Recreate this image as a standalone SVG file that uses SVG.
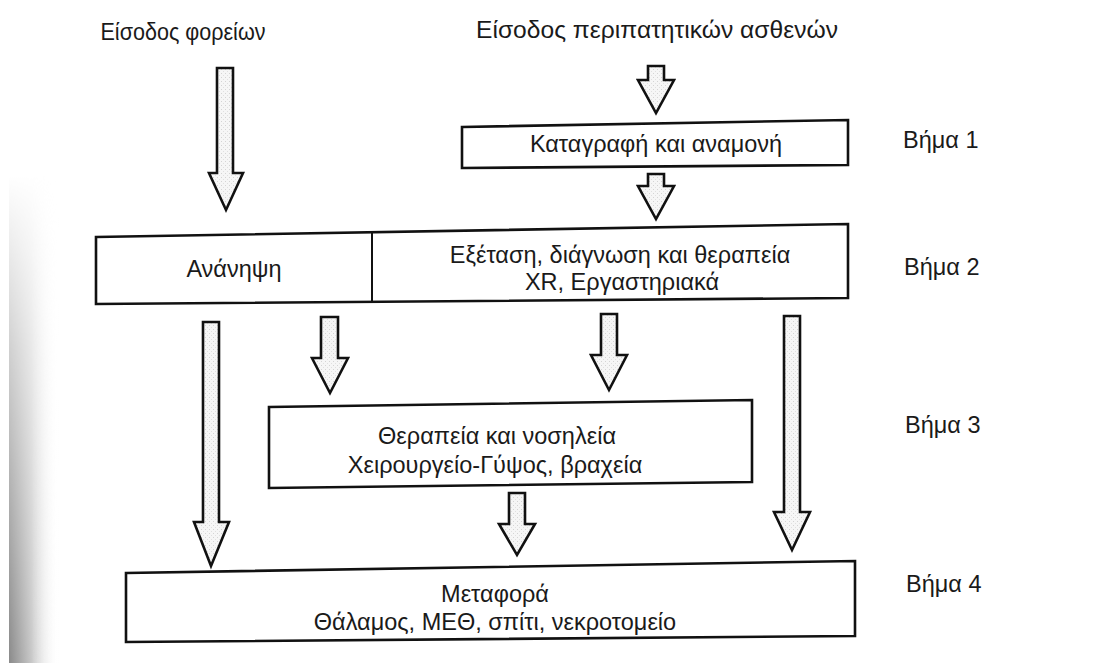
<svg xmlns="http://www.w3.org/2000/svg" width="1112" height="663" viewBox="0 0 1112 663">
<style>
.t{font-family:"Liberation Sans",Arial,sans-serif;font-size:23.5px;fill:#1a1a1a;text-anchor:middle}
.s{font-family:"Liberation Sans",Arial,sans-serif;font-size:23.5px;fill:#1a1a1a}
.box{fill:#fff;stroke:#111;stroke-width:2.6;stroke-linejoin:miter}
.arr{fill:url(#stip);stroke:#111;stroke-width:2.6;stroke-linejoin:miter}
</style>
<defs>
<pattern id="stip" width="4" height="4" patternUnits="userSpaceOnUse">
<rect width="4" height="4" fill="#f6f6f6"/>
<rect x="1" y="1" width="1" height="1" fill="#d4d4d4"/>
<rect x="3" y="3" width="1" height="1" fill="#e0e0e0"/>
</pattern>
<linearGradient id="sh" x1="0" y1="0" x2="1" y2="0">
<stop offset="0" stop-color="#8a8a8a"/>
<stop offset="0.45" stop-color="#c8c8c8"/>
<stop offset="1" stop-color="#ffffff" stop-opacity="0"/>
</linearGradient>
<linearGradient id="fade" x1="0" y1="0" x2="0" y2="1">
<stop offset="0" stop-color="#000"/>
<stop offset="0.35" stop-color="#666"/>
<stop offset="1" stop-color="#fff"/>
</linearGradient>
<mask id="m"><rect x="0" y="175" width="70" height="488" fill="url(#fade)"/></mask>
</defs>
<rect width="1112" height="663" fill="#fff"/>
<rect x="9" y="175" width="50" height="488" fill="url(#sh)" mask="url(#m)"/>

<g id="entry-carriers"><text class="t" x="183" y="40" textLength="165" lengthAdjust="spacingAndGlyphs">Είσοδος φορείων</text></g>
<g id="entry-walkin"><text class="t" x="657" y="38" textLength="362" lengthAdjust="spacingAndGlyphs">Είσοδος περιπατητικών ασθενών</text></g>

<g id="step1-box">
<polygon class="box" points="462,127 848,120 848,165 462,168"/>
<text class="t" x="656" y="152">Καταγραφή και αναμονή</text>
</g>

<g id="step2-box">
<polygon class="box" points="96,237 848,224 848,298 96,304"/>
<line x1="372" y1="233" x2="372" y2="302" stroke="#111" stroke-width="2"/>
<text class="t" x="234" y="277">Ανάνηψη</text>
<text class="t" x="620" y="263">Εξέταση, διάγνωση και θεραπεία</text>
<text class="t" x="622" y="290">XR, Εργαστηριακά</text>
</g>

<g id="step3-box">
<polygon class="box" points="269,407 752,400 752,482 269,488"/>
<text class="t" x="497" y="444">Θεραπεία και νοσηλεία</text>
<text class="t" x="495" y="473">Χειρουργείο-Γύψος, βραχεία</text>
</g>

<g id="step4-box">
<polygon class="box" points="126,573 855,561 855,636 126,642"/>
<text class="t" x="495" y="602">Μεταφορά</text>
<text class="t" x="495" y="630">Θάλαμος, ΜΕΘ, σπίτι, νεκροτομείο</text>
</g>

<g id="step-labels">
<text class="s" x="903" y="148">Βήμα 1</text>
<text class="s" x="904" y="275">Βήμα 2</text>
<text class="s" x="905" y="433">Βήμα 3</text>
<text class="s" x="906" y="592">Βήμα 4</text>
</g>

<g id="connectors">
<polygon class="arr" points="217,68 233,68 233,173 243,173 226,210 209,173 217,173"/>
<polygon class="arr" points="648,66 664,66 664,80 674,80 656,113 638,80 648,80"/>
<polygon class="arr" points="648,174 664,174 664,186 674,186 656,219 638,186 648,186"/>
<polygon class="arr" points="203,322 219,322 219,522 229,522 211,566 194,522 203,522"/>
<polygon class="arr" points="321,317 338,317 338,358 348,358 330,393 312,358 321,358"/>
<polygon class="arr" points="601,314 617,314 617,355 627,355 609,390 591,355 601,355"/>
<polygon class="arr" points="784,316 800,316 800,512 810,512 792,550 774,512 784,512"/>
<polygon class="arr" points="509,493 525,493 525,524 535,524 517,555 499,524 509,524"/>
</g>
</svg>
